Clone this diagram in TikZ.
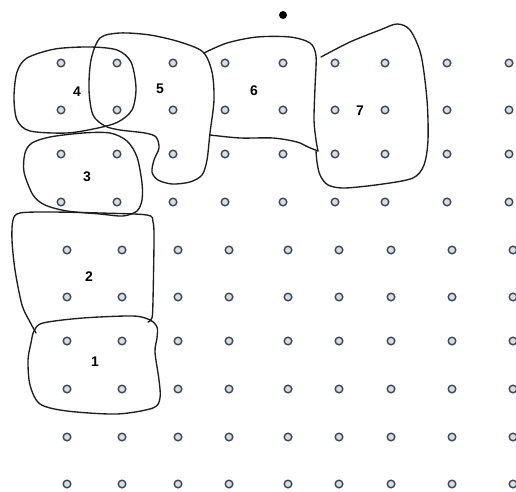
\documentclass[tikz,border=0pt]{standalone}
\usepackage{fontspec}
\setmainfont{Liberation Sans}
\definecolor{dotfill}{HTML}{D3DFEA}
\definecolor{dotline}{HTML}{3F4852}
\definecolor{blobline}{HTML}{1E1E1E}
\begin{document}
\begin{tikzpicture}[x=1bp,y=-1bp,
  gdot/.style={circle,draw=dotline,fill=dotfill,line width=1.4bp,inner sep=0pt,minimum size=7.6bp},
  blob/.style={draw=blobline,line width=1.35bp,line join=round,line cap=round},
  lab/.style={font=\fontsize{14}{16}\selectfont\bfseries,inner sep=0pt}]
\useasboundingbox[fill=white] (0,0) rectangle (516,492);
% grid of dots
\foreach \y [count=\r] in {63,110,154,202}{
  \foreach \x [count=\c] in {61,117,173,225,283,335,385,447,509}{
    \node[gdot] (t\r-\c) at (\x,\y) {};
  }
}
\foreach \y [count=\r] in {250,297,341,389,437,484}{
  \foreach \x [count=\c] in {67,122,178,229,288,339,391,452,513}{
    \node[gdot] (b\r-\c) at (\x,\y) {};
  }
}
% black dot
\fill[black] (283,15) circle (4bp);
% blob 4
\draw[blob] plot[smooth cycle] coordinates {(27,58) (55,49) (90,47) (117,50) (131,62) (136,88) (132,110) (118,122) (98,128) (67,133) (30,131) (17,120) (14,97) (17,72)};
% blob 5
\draw[blob] plot[smooth cycle] coordinates {(100,38) (120,33) (150,35) (180,42) (203,52) (212,72) (214,100) (210,133) (207,160) (202,175) (190,182) (172,184) (158,180) (152,172) (154,160) (159,148) (156,137) (145,133) (120,130) (105,126) (93,115) (89,90) (91,60)};
% blob 6
\draw[blob] plot[smooth] coordinates {(204,53) (227,43) (257,37) (290,37) (310,43) (316,56) (315,87) (314,120) (316,140) (318,151)};
\draw[blob] plot[smooth] coordinates {(318,151) (308,147) (297,142) (273,138) (240,138) (210,135)};
% blob 7
\draw[blob] plot[smooth] coordinates {(321,57) (350,42) (380,30) (397,24) (410,30) (421,55) (427,100) (428,140) (424,165) (413,178) (383,184) (345,188) (328,185) (320,175) (317,162) (316,151)};
% blob 3
\draw[blob] plot[smooth cycle] coordinates {(32,143) (50,137) (83,133) (110,133) (127,141) (137,157) (142,183) (142,200) (137,211) (123,216) (100,214) (67,211) (45,205) (33,195) (24,172) (25,153)};
% blob 2
\draw[blob] plot[smooth] coordinates {(36,333) (30,322) (22,305) (15,270) (12,240) (13,220) (20,213) (50,212) (100,213) (147,215) (153,222) (154,240) (153,300) (152,318) (148,322)};
% blob 1
\draw[blob] plot[smooth cycle] coordinates {(34,331) (43,323) (83,318) (133,316) (150,320) (157,327) (157,338) (155,352) (159,380) (160,398) (153,408) (117,414) (67,411) (40,404) (30,385) (28,360) (31,343)};
% labels
\node[lab] (l4) at (77,92) {4};
\node[lab] (l5) at (160,89) {5};
\node[lab] (l6) at (254,91) {6};
\node[lab] (l7) at (360,111) {7};
\node[lab] (l3) at (87,177) {3};
\node[lab] (l2) at (89,277) {2};
\node[lab] (l1) at (95,362) {1};
\end{tikzpicture}
\end{document}
